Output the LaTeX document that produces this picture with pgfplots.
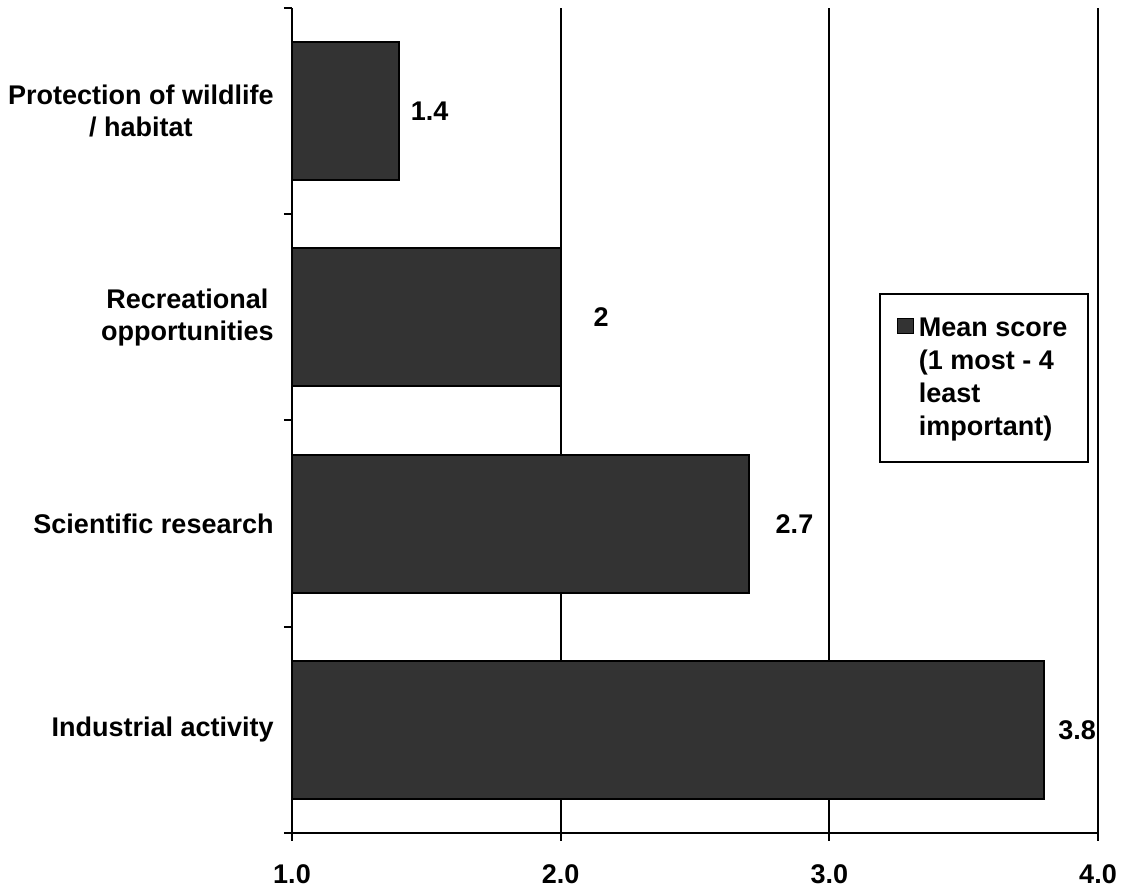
\documentclass[border=0pt]{standalone}
\usepackage{pgfplots}
\usepackage{pgfplotstable}
\pgfplotsset{compat=1.18}
\usepackage{fontspec}
\setmainfont{Liberation Sans}
\definecolor{barc}{RGB}{51,51,51}
\newcommand\lf{\bfseries\fontsize{13.5}{16}\selectfont}
\newcommand\lgf{\bfseries\fontsize{13.5}{16.5}\selectfont}
\pgfplotstableread{
y x dx
0 3.8 6.5
1 2.7 13
2 2 16
3 1.4 5.25
}\datatable
\begin{document}
\begin{tikzpicture}
\useasboundingbox (-146pt,-26.5pt) rectangle (415.5pt,416.5pt);
\begin{axis}[
  at={(0pt,0pt)}, anchor=south west,
  scale only axis, width=403pt, height=412.5pt,
  xmin=1, xmax=4, ymin=-0.5, ymax=3.5,
  xbar, bar width=0.67,
  xtick={1,2,3,4},
  ytick={0,1,2,3},
  yticklabels={Industrial activity, Scientific research, {Recreational\\opportunities}, {Protection of wildlife\\/ habitat}},
  minor ytick={-0.5,0.5,1.5,2.5,3.5},
  axis lines*=left, axis line style={-, line width=1pt, black},
  tick align=outside, major tick length=4pt, minor tick length=4pt,
  major y tick style={draw=none},
  minor y tick style={line width=1pt, black},
  major x tick style={line width=1pt, black},
  xmajorgrids, ymajorgrids=false,
  major grid style={line width=1pt, black},
  /pgf/number format/assume math mode=true,
  x tick label style={font=\lf, anchor=north, inner sep=0pt, yshift=-11.5pt,
    /pgf/number format/.cd, fixed, fixed zerofill, precision=1},
  y tick label style={font=\lf, anchor=east, inner sep=0pt, xshift=-5pt, align=center},
  nodes near coords, nodes near coords align=horizontal,
  visualization depends on={\thisrow{dx} \as \dx},
  every node near coord/.append style={font=\lf, anchor=west, inner sep=0pt, xshift=\dx pt},
  legend style={at={(0.728,0.6545)}, anchor=north west, draw=black, line width=1pt,
    inner xsep=8.5pt, inner ysep=9.5pt, column sep=0.5pt, font=\lgf,
    cells={anchor=north west, align=left, inner sep=0pt}},
]
\addplot[fill=barc, draw=black, line width=1pt,
  legend image code/.code={\draw[fill=barc, draw=black, line width=0.5pt] (0pt,-10.2pt) rectangle (8pt,-2.7pt);}]
  table[x=x, y=y] {\datatable};
\addlegendentry{Mean score\\(1 most - 4\\least\\important)}
\end{axis}
\end{tikzpicture}
\end{document}
